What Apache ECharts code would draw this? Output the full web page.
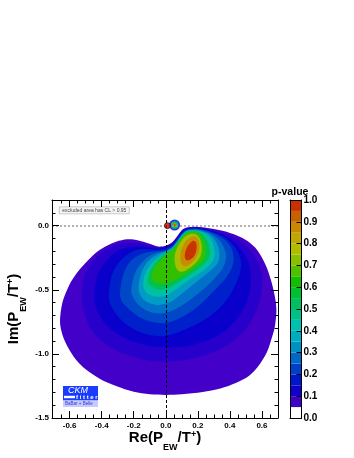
<!DOCTYPE html>
<html>
<head>
<meta charset="utf-8">
<script src="https://cdn.jsdelivr.net/npm/echarts@6/dist/echarts.min.js"></script>
<style>
  html, body { margin: 0; padding: 0; background: #fff; }
  #main { width: 354px; height: 458px; }
</style>
</head>
<body>
<div id="main"></div>
<script>
// p-value contour levels, each outline given as [Re, Im] points
const levels = [0.05, 0.08, 0.11, 0.15, 0.2, 0.25, 0.3, 0.4, 0.5, 0.6, 0.7, 0.8, 0.9];

const contour005 = [[-0.66,-0.75],[-0.645,-0.6],[-0.605,-0.47],[-0.555,-0.37],[-0.5,-0.29],[-0.44,-0.215],[-0.38,-0.165],[-0.31,-0.125],[-0.24,-0.106],[-0.17,-0.115],[-0.1,-0.142],[-0.05,-0.163],[0.0,-0.157],[0.04,-0.13],[0.07,-0.085],[0.1,-0.035],[0.13,-0.014],[0.19,-0.008],[0.27,-0.02],[0.36,-0.042],[0.44,-0.075],[0.51,-0.12],[0.57,-0.19],[0.62,-0.3],[0.655,-0.42],[0.68,-0.55],[0.69,-0.66],[0.68,-0.79],[0.66,-0.88],[0.63,-0.99],[0.58,-1.09],[0.52,-1.17],[0.44,-1.225],[0.34,-1.27],[0.23,-1.297],[0.1,-1.315],[0.0,-1.32],[-0.1,-1.315],[-0.2,-1.295],[-0.31,-1.25],[-0.41,-1.195],[-0.5,-1.12],[-0.56,-1.045],[-0.61,-0.95],[-0.645,-0.85]];
const contour008 = [[-0.52,-0.62],[-0.52,-0.47],[-0.5,-0.37],[-0.455,-0.28],[-0.4,-0.21],[-0.33,-0.16],[-0.27,-0.138],[-0.2,-0.135],[-0.14,-0.145],[-0.1,-0.158],[-0.05,-0.17],[0.0,-0.163],[0.04,-0.136],[0.07,-0.091],[0.1,-0.041],[0.13,-0.019],[0.16,-0.014],[0.2,-0.014],[0.28,-0.03],[0.36,-0.058],[0.44,-0.1],[0.5,-0.155],[0.545,-0.22],[0.58,-0.3],[0.6,-0.4],[0.6,-0.49],[0.585,-0.59],[0.55,-0.7],[0.49,-0.82],[0.4,-0.92],[0.27,-1.0],[0.13,-1.045],[0.0,-1.06],[-0.14,-1.045],[-0.28,-0.99],[-0.39,-0.91],[-0.47,-0.8]];
const contour011 = [[-0.445,-0.6],[-0.44,-0.47],[-0.42,-0.37],[-0.38,-0.29],[-0.33,-0.225],[-0.27,-0.18],[-0.2,-0.165],[-0.14,-0.165],[-0.1,-0.172],[-0.05,-0.178],[0.0,-0.17],[0.04,-0.143],[0.07,-0.097],[0.1,-0.047],[0.13,-0.024],[0.16,-0.018],[0.2,-0.018],[0.28,-0.038],[0.36,-0.075],[0.43,-0.13],[0.48,-0.2],[0.515,-0.28],[0.53,-0.37],[0.53,-0.47],[0.51,-0.58],[0.46,-0.7],[0.38,-0.81],[0.27,-0.89],[0.13,-0.94],[0.0,-0.95],[-0.13,-0.93],[-0.25,-0.88],[-0.35,-0.8],[-0.41,-0.71]];
const contour015 = [[-0.355,-0.57],[-0.35,-0.47],[-0.335,-0.38],[-0.3,-0.3],[-0.25,-0.235],[-0.2,-0.195],[-0.14,-0.183],[-0.1,-0.185],[-0.05,-0.187],[0.0,-0.178],[0.04,-0.151],[0.07,-0.105],[0.1,-0.055],[0.13,-0.03],[0.16,-0.022],[0.2,-0.022],[0.28,-0.045],[0.36,-0.085],[0.42,-0.15],[0.455,-0.22],[0.47,-0.3],[0.46,-0.38],[0.43,-0.47],[0.39,-0.56],[0.32,-0.66],[0.22,-0.75],[0.1,-0.82],[0.0,-0.86],[-0.11,-0.85],[-0.21,-0.8],[-0.29,-0.72],[-0.335,-0.64]];
const contour020 = [[-0.285,-0.55],[-0.28,-0.46],[-0.265,-0.38],[-0.24,-0.31],[-0.2,-0.255],[-0.15,-0.22],[-0.1,-0.205],[-0.05,-0.198],[0.0,-0.19],[0.04,-0.162],[0.07,-0.116],[0.1,-0.066],[0.13,-0.034],[0.16,-0.026],[0.2,-0.026],[0.28,-0.05],[0.35,-0.095],[0.4,-0.155],[0.42,-0.22],[0.42,-0.3],[0.39,-0.38],[0.33,-0.47],[0.26,-0.56],[0.18,-0.65],[0.09,-0.72],[0.0,-0.76],[-0.09,-0.75],[-0.17,-0.71],[-0.23,-0.65],[-0.27,-0.6]];
const contour025 = [[-0.215,-0.52],[-0.21,-0.45],[-0.195,-0.38],[-0.17,-0.32],[-0.135,-0.27],[-0.1,-0.235],[-0.05,-0.21],[0.0,-0.195],[0.04,-0.167],[0.07,-0.121],[0.1,-0.07],[0.13,-0.038],[0.16,-0.03],[0.2,-0.03],[0.27,-0.055],[0.32,-0.095],[0.355,-0.15],[0.375,-0.22],[0.37,-0.29],[0.34,-0.36],[0.29,-0.43],[0.24,-0.49],[0.17,-0.56],[0.09,-0.63],[0.0,-0.68],[-0.08,-0.68],[-0.15,-0.64],[-0.195,-0.58]];
const contour030 = [[-0.17,-0.5],[-0.165,-0.43],[-0.15,-0.36],[-0.125,-0.3],[-0.09,-0.255],[-0.05,-0.225],[-0.02,-0.208],[0.0,-0.2],[0.04,-0.172],[0.07,-0.126],[0.1,-0.074],[0.13,-0.042],[0.16,-0.034],[0.2,-0.035],[0.26,-0.058],[0.3,-0.1],[0.325,-0.16],[0.335,-0.23],[0.32,-0.3],[0.27,-0.36],[0.21,-0.42],[0.16,-0.47],[0.09,-0.54],[0.02,-0.6],[-0.05,-0.62],[-0.11,-0.6],[-0.15,-0.56]];
const contour040 = [[-0.14,-0.47],[-0.135,-0.4],[-0.115,-0.34],[-0.085,-0.29],[-0.045,-0.245],[-0.01,-0.215],[0.04,-0.177],[0.07,-0.13],[0.1,-0.078],[0.13,-0.046],[0.16,-0.038],[0.2,-0.04],[0.25,-0.065],[0.285,-0.11],[0.3,-0.17],[0.305,-0.235],[0.285,-0.29],[0.24,-0.345],[0.18,-0.395],[0.12,-0.445],[0.07,-0.49],[0.02,-0.535],[-0.04,-0.555],[-0.09,-0.545],[-0.125,-0.515]];
const contour050 = [[-0.115,-0.44],[-0.105,-0.38],[-0.08,-0.32],[-0.05,-0.27],[-0.02,-0.235],[0.0,-0.215],[0.04,-0.182],[0.07,-0.135],[0.1,-0.085],[0.13,-0.052],[0.16,-0.042],[0.2,-0.045],[0.235,-0.07],[0.26,-0.12],[0.275,-0.19],[0.27,-0.25],[0.24,-0.3],[0.19,-0.35],[0.13,-0.4],[0.07,-0.45],[0.02,-0.485],[-0.03,-0.5],[-0.08,-0.485]];
const contour060 = [[-0.09,-0.4],[-0.08,-0.35],[-0.055,-0.3],[-0.025,-0.26],[0.0,-0.225],[0.04,-0.19],[0.07,-0.143],[0.1,-0.092],[0.13,-0.058],[0.16,-0.047],[0.19,-0.05],[0.215,-0.075],[0.24,-0.13],[0.25,-0.2],[0.24,-0.26],[0.2,-0.31],[0.14,-0.36],[0.08,-0.41],[0.03,-0.44],[-0.02,-0.455],[-0.06,-0.445]];
const contour070 = [[0.055,-0.27],[0.06,-0.21],[0.085,-0.14],[0.12,-0.085],[0.155,-0.065],[0.19,-0.07],[0.215,-0.11],[0.225,-0.17],[0.215,-0.24],[0.18,-0.3],[0.13,-0.345],[0.09,-0.36],[0.065,-0.33]];
const contour080 = [[0.09,-0.26],[0.095,-0.2],[0.12,-0.13],[0.15,-0.095],[0.18,-0.085],[0.2,-0.105],[0.21,-0.16],[0.2,-0.22],[0.17,-0.28],[0.13,-0.315],[0.105,-0.31]];
const contour090 = [[0.118,-0.24],[0.125,-0.19],[0.145,-0.145],[0.17,-0.118],[0.188,-0.13],[0.192,-0.18],[0.18,-0.23],[0.155,-0.262],[0.13,-0.27]];

const contours = [contour005, contour008, contour011, contour015, contour020, contour025,
  contour030, contour040, contour050, contour060, contour070, contour080, contour090];

// small isolated solution just right of the origin
const islandCenter = [0.055, 0.005];
const islandLevels = [0.1, 0.2, 0.35, 0.5, 0.65, 0.8, 0.95];

// marked point near the origin
const refPoint = [0.01, 0.0];

// dashed reference lines
const refX = 0.0;
const refY = 0.0;

// axis ticks
const xMajor = [-0.6, -0.4, -0.2, 0.0, 0.2, 0.4, 0.6];
const xMinor = [-0.65, -0.55, -0.5, -0.45, -0.35, -0.3, -0.25, -0.15, -0.1, -0.05,
  0.05, 0.1, 0.15, 0.25, 0.3, 0.35, 0.45, 0.5, 0.55, 0.65];
const yMajor = [-1.5, -1.0, -0.5, 0.0];
const yMinor = [-1.4, -1.3, -1.2, -1.1, -0.9, -0.8, -0.7, -0.6, -0.4, -0.3, -0.2, -0.1, 0.1];
const cbTicks = [0, 0.1, 0.2, 0.3, 0.4, 0.5, 0.6, 0.7, 0.8, 0.9, 1.0];
const cbEdges = [0, 0.05, 0.1, 0.15, 0.2, 0.25, 0.3, 0.35, 0.4, 0.45, 0.5,
  0.55, 0.6, 0.65, 0.7, 0.75, 0.8, 0.85, 0.9, 0.95, 1.0];

// palette (style)
const cbColors = ['#ffffff', '#4000c8', '#1000cc', '#0018cc', '#0040c8', '#0068c8', '#0090c4',
  '#00acc0', '#00c0b0', '#00c088', '#00c060', '#00c030', '#10c000', '#50c000', '#88c000',
  '#b0bc00', '#c0a800', '#c88800', '#c86000', '#c83000'];
const bandColors = ['#4200c8', '#2800cc', '#0a00cc', '#0020cc', '#0048c8', '#0070c8', '#009cc4',
  '#00c0a4', '#00c050', '#30c000', '#a8bc00', '#c88c00', '#c83400'];

function colorAt(p) {
  for (let i = 0; i < cbColors.length; i++) {
    if (p >= cbEdges[i] && p < cbEdges[i + 1]) return cbColors[i];
  }
  return cbColors[cbColors.length - 1];
}

const X_MIN = -0.71, X_MAX = 0.70, Y_MIN = -1.5, Y_MAX = 0.2;
const FONT = '"Liberation Sans", Arial, Helvetica, sans-serif';
const frameLine = { show: true, onZero: false, lineStyle: { color: '#000', width: 1 } };
const noLine = { show: false, onZero: false };
const fmt = v => (Math.abs(v) < 1e-9 ? 0 : v).toFixed(1);

function tickAxis(pos, min, max, ticks, len, lineOn, label) {
  return {
    type: 'value', gridIndex: 0, position: pos, min: min, max: max, z: 5,
    axisLine: lineOn ? frameLine : noLine,
    splitLine: { show: false },
    axisTick: { show: true, inside: true, length: len, customValues: ticks, lineStyle: { color: '#000', width: 1 } },
    axisLabel: label ? Object.assign({ customValues: ticks, formatter: fmt, fontFamily: FONT,
      fontWeight: 'bold', color: '#000' }, label) : { show: false }
  };
}

function barAxis(pos) {
  return { type: 'value', gridIndex: 1, min: 0, max: 1, position: pos, z: 5, axisLine: frameLine,
    axisTick: { show: false }, axisLabel: { show: false }, splitLine: { show: false } };
}

const chart = echarts.init(document.getElementById('main'));

const islandSizes = [11, 9.5, 8, 6.5, 5, 3.6, 2.2];

chart.setOption({
  animation: false,
  grid: [
    { left: 52, top: 200, width: 226, height: 218 },
    { left: 290, top: 200, width: 11.5, height: 218 }
  ],
  xAxis: [
    tickAxis('bottom', X_MIN, X_MAX, xMajor, 7, true, { fontSize: 8, margin: 4 }),
    tickAxis('bottom', X_MIN, X_MAX, xMinor, 3.5, false, null),
    tickAxis('top', X_MIN, X_MAX, xMajor, 7, true, null),
    tickAxis('top', X_MIN, X_MAX, xMinor, 3.5, false, null),
    barAxis('bottom'),
    barAxis('top')
  ],
  yAxis: [
    tickAxis('left', Y_MIN, Y_MAX, yMajor, 7, true, { fontSize: 8, margin: 3 }),
    tickAxis('left', Y_MIN, Y_MAX, yMinor, 3.5, false, null),
    tickAxis('right', Y_MIN, Y_MAX, yMajor, 7, true, null),
    tickAxis('right', Y_MIN, Y_MAX, yMinor, 3.5, false, null),
    barAxis('left'),
    { type: 'value', gridIndex: 1, min: 0, max: 1, position: 'right', z: 5, axisLine: frameLine,
      splitLine: { show: false },
      axisTick: { show: true, inside: true, length: 5, customValues: cbTicks, lineStyle: { color: '#000' } },
      axisLabel: { customValues: cbTicks, formatter: fmt, margin: 2, fontSize: 10, fontWeight: 'bold',
        color: '#000', fontFamily: FONT } }
  ],
  series: [
    {
      // filled p-value regions, outermost first
      type: 'custom', xAxisIndex: 0, yAxisIndex: 0, clip: true, z: 2, silent: true,
      data: contours.map((c, i) => [0, 0, i]),
      renderItem: function (params, api) {
        const i = api.value(2);
        return {
          type: 'polygon',
          shape: { points: contours[i].map(p => api.coord(p)), smooth: 0.3 },
          style: { fill: bandColors[i] }
        };
      }
    },
    {
      type: 'line', xAxisIndex: 0, yAxisIndex: 0, data: [], z: 3, silent: true,
      markLine: {
        symbol: ['none', 'none'], silent: true, animation: false, label: { show: false },
        data: [
          { xAxis: refX, lineStyle: { color: '#000', type: [3, 2], width: 1 } },
          { yAxis: refY, lineStyle: { color: '#999', type: [2, 2], width: 1.5 } }
        ]
      }
    },
    {
      type: 'scatter', xAxisIndex: 0, yAxisIndex: 0, z: 4, silent: true,
      data: islandLevels.map((l, i) => ({
        value: islandCenter, symbolSize: islandSizes[i], itemStyle: { color: colorAt(l) }
      }))
    },
    {
      type: 'scatter', xAxisIndex: 0, yAxisIndex: 0, z: 5, silent: true,
      data: [refPoint], symbolSize: 6,
      itemStyle: { color: '#d40000', borderColor: '#000', borderWidth: 0.8 }
    },
    {
      // colour scale
      type: 'custom', xAxisIndex: 4, yAxisIndex: 4, z: 2, silent: true,
      data: cbColors.map((c, i) => [0, 0, i]),
      renderItem: function (params, api) {
        const i = api.value(2);
        const a = api.coord([0, cbEdges[i + 1]]);
        const b = api.coord([1, cbEdges[i]]);
        return {
          type: 'rect',
          shape: { x: a[0], y: a[1], width: b[0] - a[0], height: b[1] - a[1] },
          style: { fill: cbColors[i] }
        };
      }
    }
  ],
  graphic: [
    {
      type: 'group', left: 59, top: 206.5, silent: true,
      children: [
        { type: 'rect', shape: { x: 0, y: 0, width: 70, height: 7 },
          style: { fill: '#f4f4f4', stroke: '#aaa', lineWidth: 0.6 } },
        { type: 'text', x: 3, y: 3.6,
          style: { text: 'excluded area has CL > 0.95', fontSize: 5, fontFamily: FONT,
            fill: '#444', verticalAlign: 'middle' } }
      ]
    },
    {
      type: 'group', left: 63, top: 386, silent: true,
      children: [
        { type: 'rect', shape: { x: 0, y: 0, width: 35, height: 14.5 }, style: { fill: '#1a3cff' } },
        { type: 'text', x: 5, y: 4.5,
          style: { text: 'CKM', fontSize: 9, fontStyle: 'italic', fontFamily: FONT, fill: '#fff',
            verticalAlign: 'middle' } },
        { type: 'rect', shape: { x: 1, y: 9.8, width: 11, height: 2.4 }, style: { fill: '#fff' } },
        { type: 'text', x: 13, y: 11.6,
          style: { text: 'f i t t e r', fontSize: 6, fontWeight: 'bold', fontFamily: FONT, fill: '#fff',
            verticalAlign: 'middle' } },
        { type: 'rect', shape: { x: 0, y: 14.5, width: 35, height: 6.5 }, style: { fill: '#c6cbff' } },
        { type: 'text', x: 2, y: 17.9,
          style: { text: 'BaBar + Belle', fontSize: 4.5, fontFamily: FONT, fill: '#2a3ad0',
            verticalAlign: 'middle' } }
      ]
    },
    {
      type: 'text', x: 290, y: 192, silent: true,
      style: { text: 'p-value', fontSize: 10.5, fontWeight: 'bold', fontFamily: FONT, fill: '#000',
        align: 'center', verticalAlign: 'middle' }
    },
    {
      type: 'text', x: 165, y: 452, silent: true,
      style: {
        text: '{m|Re(P}{s|EW}{m|/T}{p|+}{m|)}', align: 'center', verticalAlign: 'bottom',
        rich: {
          m: { fontSize: 15, fontWeight: 'bold', fontFamily: FONT, fill: '#000', verticalAlign: 'bottom', padding: [0, 0, 7, 0] },
          s: { fontSize: 9, fontWeight: 'bold', fontFamily: FONT, fill: '#000', verticalAlign: 'bottom' },
          p: { fontSize: 9, fontWeight: 'bold', fontFamily: FONT, fill: '#000', verticalAlign: 'top' }
        }
      }
    },
    {
      type: 'text', x: 17, y: 309, rotation: Math.PI / 2, silent: true,
      style: {
        text: '{m|Im(P}{s|EW}{m|/T}{p|+}{m|)}', align: 'center', verticalAlign: 'middle',
        rich: {
          m: { fontSize: 15, fontWeight: 'bold', fontFamily: FONT, fill: '#000', verticalAlign: 'bottom', padding: [0, 0, 7, 0] },
          s: { fontSize: 9, fontWeight: 'bold', fontFamily: FONT, fill: '#000', verticalAlign: 'bottom' },
          p: { fontSize: 9, fontWeight: 'bold', fontFamily: FONT, fill: '#000', verticalAlign: 'top' }
        }
      }
    }
  ]
});
</script>
</body>
</html>
